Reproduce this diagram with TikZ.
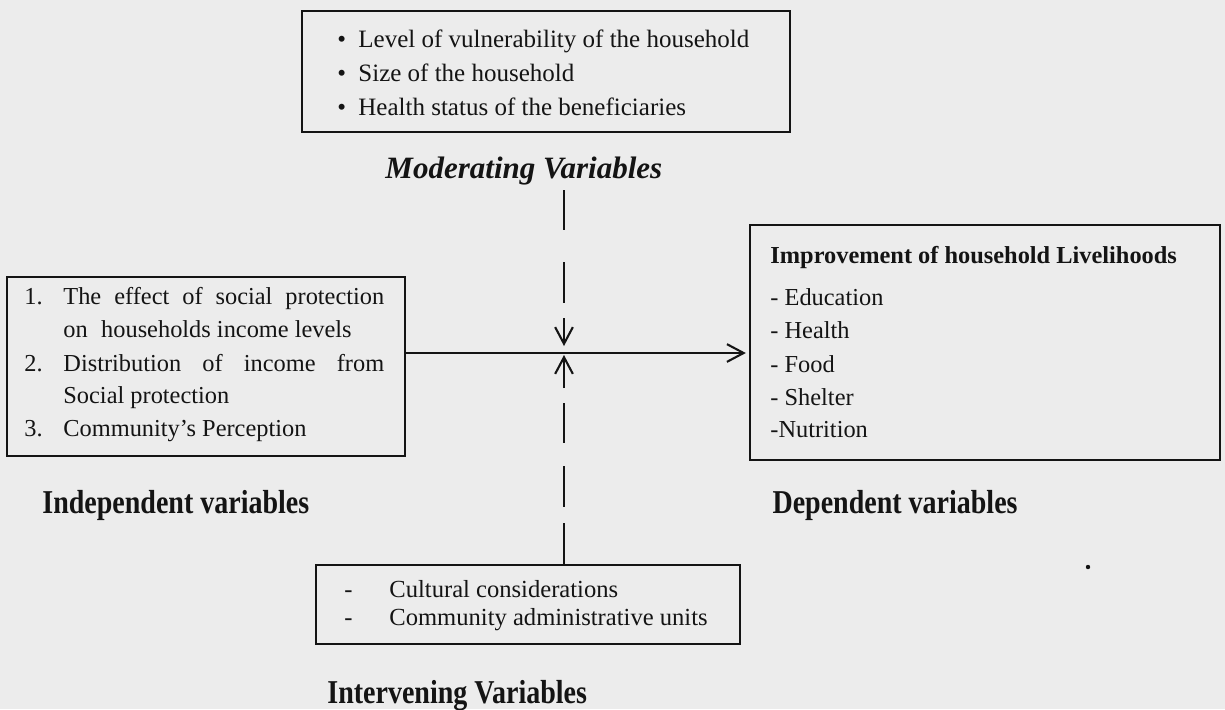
\documentclass[tikz,border=0pt]{standalone}
\usepackage{fontspec}
\usepackage{graphicx}
\setmainfont{Liberation Serif}
\usetikzlibrary{arrows.meta,fit}
\definecolor{paper}{RGB}{236,236,236}
\definecolor{ink}{RGB}{20,20,20}
\begin{document}
\begin{tikzpicture}[x=0.48pt,y=-0.48pt,
  box/.style={draw=ink,line width=1pt,inner sep=0pt},
  txt/.style={anchor=base west,inner sep=0pt,text=ink,font=\fontsize{11.7}{14}\selectfont},
  toptxt/.style={anchor=base west,inner sep=0pt,text=ink,font=\fontsize{12}{14}\selectfont},
  bottxt/.style={anchor=base west,inner sep=0pt,text=ink,font=\fontsize{11.8}{14}\selectfont},
  lbl/.style={anchor=base west,inner sep=0pt,text=ink,font=\fontsize{16}{19}\selectfont\bfseries},
  conn/.style={draw=ink,line width=1pt},
  arr/.style={conn,-{Straight Barb[length=8pt,width=8.5pt,line width=1pt]}}]
\fill[paper] (0,0) rectangle (1225,709);
\useasboundingbox (0,0) rectangle (1225,709);

% boxes
\coordinate (m1) at (302,11);  \coordinate (m2) at (790,132);
\coordinate (i1) at (7,277);   \coordinate (i2) at (405,456);
\coordinate (d1) at (750,225); \coordinate (d2) at (1220,460);
\coordinate (v1) at (316,565); \coordinate (v2) at (740,644);
\node[box,fit=(m1)(m2)] (modbox) {};
\node[box,fit=(i1)(i2)] (indbox) {};
\node[box,fit=(d1)(d2)] (depbox) {};
\node[box,fit=(v1)(v2)] (intbox) {};

% moderating box text
\node[toptxt] (mb1) at (337,47) {•};
\node[toptxt] (mt1) at (358,47) {Level of vulnerability of the household};
\node[toptxt] (mb2) at (337,81) {•};
\node[toptxt] (mt2) at (358,81) {Size of the household};
\node[toptxt] (mb3) at (337,115) {•};
\node[toptxt] (mt3) at (358,115) {Health status of the beneficiaries};
\node[anchor=base west,inner sep=0pt,text=ink,font=\fontsize{14.9}{18}\selectfont\bfseries\itshape] (modlbl) at (385,178) {Moderating Variables};

% independent box text
\node[txt] (in1) at (24,304) {1.};
\node[txt] (it1) at (63,304) {\hbox to 154pt{The\hfill effect\hfill of\hfill social\hfill protection}};
\node[txt] (it1b) at (63,337) {on\hspace{0.55em}households income levels};
\node[txt] (in2) at (24,371) {2.};
\node[txt] (it2) at (63,371) {\hbox to 154pt{Distribution\hfill of\hfill income\hfill from}};
\node[txt] (it2b) at (63,403) {Social protection};
\node[txt] (in3) at (24,436) {3.};
\node[txt] (it3) at (63,436) {Community’s Perception};

% dependent box text
\node[txt,font=\fontsize{11.7}{14}\selectfont\bfseries] (dt0) at (770,263) {Improvement of household Livelihoods};
\node[txt] (dt1) at (770,305) {- Education};
\node[txt] (dt2) at (770,338) {- Health};
\node[txt] (dt3) at (770,372) {- Food};
\node[txt] (dt4) at (770,405) {- Shelter};
\node[txt] (dt5) at (770,437) {-Nutrition};

% intervening box text
\node[bottxt] (vd1) at (344,597) {-};
\node[bottxt] (vt1) at (389,597) {Cultural considerations};
\node[bottxt] (vd2) at (344,625) {-};
\node[bottxt] (vt2) at (389,625) {Community administrative units};

% labels
\node[lbl] (indlbl) at (42,513) {\scalebox{0.84}[1]{Independent variables}};
\node[lbl,anchor=base east] (deplbl) at (1018,513) {\scalebox{0.84}[1]{Dependent variables}};
\node[lbl] (intlbl) at (327,703) {\scalebox{0.84}[1]{Intervening Variables}};

% connectors
\coordinate (j) at (564,353);
\draw[arr] (j -| indbox.east) -- ([xshift=-1.5pt]j -| depbox.west);
\draw[conn] (j |- 0,190) -- (j |- 0,230);
\draw[conn] (j |- 0,262) -- (j |- 0,303);
\draw[arr] (j |- 0,318) -- (j |- 0,346);
\draw[arr] (j |- 0,388) -- (j |- 0,355);
\draw[conn] (j |- 0,403) -- (j |- 0,443);
\draw[conn] (j |- 0,466) -- (j |- 0,507);
\draw[conn] (j |- 0,523) -- (j |- intbox.north);

% speck
\fill[ink] (1088,567) circle (2.2);
\end{tikzpicture}
\end{document}
